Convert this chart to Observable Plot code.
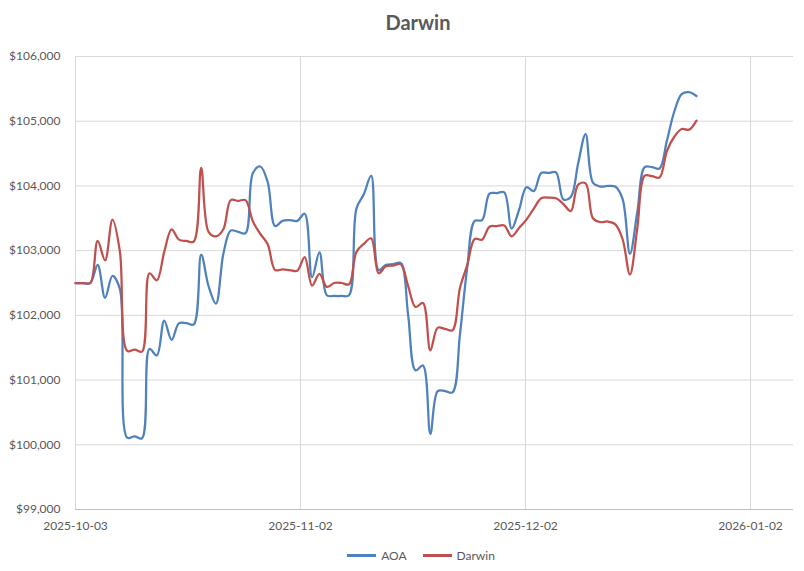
<!DOCTYPE html>
<html><head><meta charset="utf-8">
<script src="https://cdn.jsdelivr.net/npm/d3@7"></script>
<script src="https://cdn.jsdelivr.net/npm/@observablehq/plot@0.6"></script>
<style>
html,body{margin:0;padding:0;background:#fff;}
body{width:804px;height:571px;font-family:Lato,"Open Sans",sans-serif;color:#595959;overflow:hidden;}
#title{height:40px;box-sizing:border-box;padding-top:10px;line-height:24px;font-size:20px;font-weight:bold;text-align:center;padding-left:32px;}
#chart{height:500px;}
#legend{height:31px;display:flex;align-items:center;justify-content:center;padding-left:38px;font-size:12px;}
.item{display:flex;align-items:center;margin:0 8px;}
.sw{width:29px;height:2.5px;margin-right:5px;}
</style></head><body>
<div id="title">Darwin</div>
<div id="chart"></div>
<div id="legend"></div>
<script>
const startDate = "2025-10-03T00:00Z";
const xEnd = "2026-01-08T03:00Z";
const seriesNames = ["AOA", "Darwin"];
const seriesColors = ["#4f81bd", "#c0504d"];
const aoa = [
102500,102500,102500,102780,102270,102610,102410,100110,100130,100100,
101480,101380,101920,101620,101880,101880,101860,102940,102450,102180,
102950,103310,103290,103270,104200,104300,104060,103380,103460,103470,
103460,103570,102590,102975,102310,102300,102300,102310,103650,103870,
104160,102700,102780,102790,102810,102000,101150,101225,100170,100830,
100830,100810,101700,102750,103460,103470,103880,103890,103900,103340,
103630,103980,103920,104200,104200,104210,103790,103830,104350,104800,
104050,103990,104000,103990,103800,102950,103600,104290,104290,104270,
104700,105150,105420,105450,105390];
const darwin = [
102500,102500,102500,103150,102850,103480,102990,101450,101470,101440,
102650,102540,102980,103330,103170,103150,103140,104280,103290,103220,
103330,103780,103770,103780,103450,103260,103100,102700,102710,102700,
102690,102900,102460,102640,102440,102500,102500,102480,102980,103105,
103190,102650,102760,102770,102790,102450,102130,102190,101460,101810,
101790,101770,102420,102780,103180,103170,103370,103380,103390,103220,
103350,103480,103650,103810,103820,103810,103720,103610,104020,104040,
103500,103440,103450,103410,103180,102630,103350,104160,104150,104130,
104540,104760,104880,104870,105010];
const xTicks = ["2025-10-03T00:00Z","2025-11-02T10:30Z","2025-12-02T21:00Z","2026-01-02T07:30Z"];
const yTicks = [99000,100000,101000,102000,103000,104000,105000,106000];

const start = new Date(startDate);
const rows = [];
[aoa, darwin].forEach((vals, s) => {
  vals.forEach((v, i) => rows.push({date: d3.utcDay.offset(start, i), value: v, series: seriesNames[s]}));
});
const xTickDates = xTicks.map(t => new Date(t));

const chart = Plot.plot({
  width: 804, height: 500,
  marginTop: 16, marginBottom: 31, marginLeft: 75, marginRight: 11,
  style: {fontFamily: "Lato, 'Open Sans', sans-serif", fontSize: "12px", color: "#595959", background: "white", overflow: "visible"},
  x: {type: "utc", domain: [start, new Date(xEnd)]},
  y: {domain: [99000, 106000]},
  color: {domain: seriesNames, range: seriesColors},
  marks: [
    Plot.gridY(yTicks, {stroke: "#d9d9d9", strokeOpacity: 1, strokeWidth: 1}),
    Plot.gridX(xTickDates, {stroke: "#d9d9d9", strokeOpacity: 1, strokeWidth: 1}),
    Plot.ruleY([99000], {stroke: "#bfbfbf", strokeWidth: 1}),
    Plot.axisY(yTicks, {tickSize: 0, tickPadding: 15, tickFormat: d3.format("$,"), label: null, fill: "#595959"}),
    Plot.axisX(xTickDates, {tickSize: 0, tickPadding: 12, tickFormat: d3.utcFormat("%Y-%m-%d"), label: null, fill: "#595959"}),
    Plot.line(rows, {x: "date", y: "value", stroke: "series", curve: "catmull-rom", strokeWidth: 2.25})
  ]
});
document.getElementById("chart").appendChild(chart);

const legend = document.getElementById("legend");
seriesNames.forEach((n, i) => {
  const it = document.createElement("div");
  it.className = "item";
  const sw = document.createElement("div");
  sw.className = "sw";
  sw.style.background = seriesColors[i];
  const tx = document.createElement("span");
  tx.textContent = n;
  it.appendChild(sw); it.appendChild(tx);
  legend.appendChild(it);
});
</script>
</body></html>
